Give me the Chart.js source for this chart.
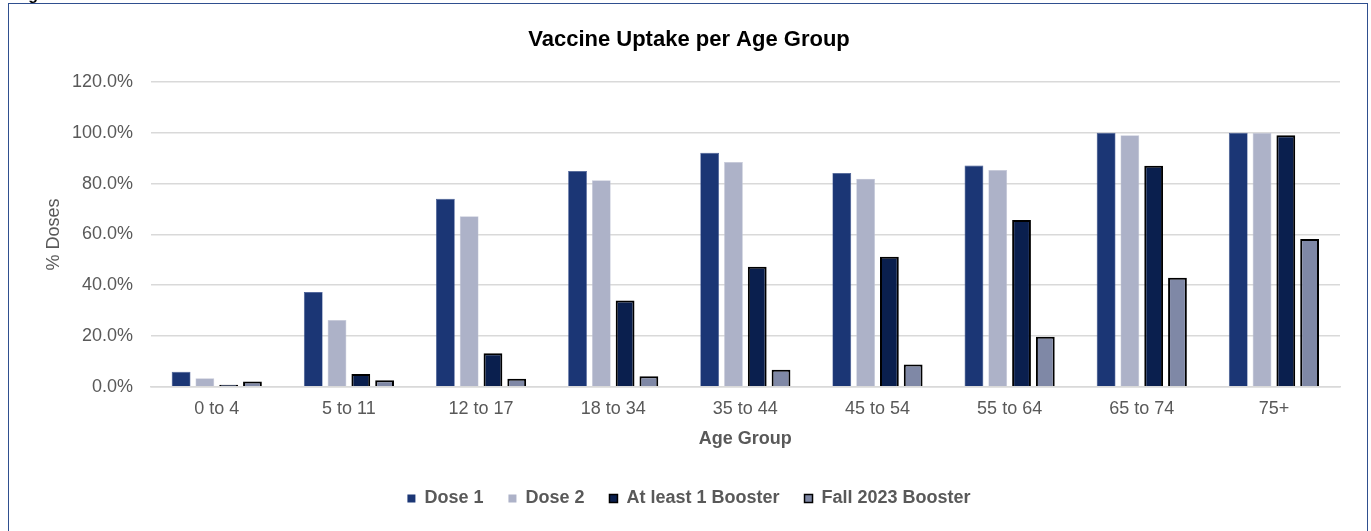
<!DOCTYPE html>
<html>
<head>
<meta charset="utf-8">
<script src="https://cdn.jsdelivr.net/npm/chart.js@4.4.1/dist/chart.umd.min.js"></script>
<style>
  html, body { margin: 0; padding: 0; background: #ffffff; overflow: hidden; }
  #wrap { position: relative; width: 1371px; height: 531px; overflow: hidden; }
  #c { position: absolute; left: 0; top: 0; }
  #frame { position: absolute; left: 8px; top: 3px; width: 1358px; height: 600px; border: 1.5px solid #2f4f8f; pointer-events: none; }
  #fig { position: absolute; left: 14px; top: -13.5px; font: bold 16px "Liberation Sans", Arial, sans-serif; line-height: 16px; color: #000; white-space: nowrap; }
</style>
</head>
<body>
<div id="wrap">
  <canvas id="c" width="1371" height="531"></canvas>
  <div id="frame"></div>
  <div id="fig">Figure</div>
</div>
<script>
const categories = ["0 to 4", "5 to 11", "12 to 17", "18 to 34", "35 to 44", "45 to 54", "55 to 64", "65 to 74", "75+"];
const dose1 = [5.9, 37.3, 74.0, 85.0, 92.1, 84.2, 87.1, 100.0, 100.0];
const dose2 = [3.4, 26.3, 67.1, 81.3, 88.5, 81.9, 85.4, 99.0, 100.0];
const booster = [0.8, 5.0, 13.2, 34.0, 47.3, 51.2, 65.7, 87.0, 99.0];
const fall2023 = [2.1, 2.6, 3.2, 4.2, 6.7, 8.8, 19.7, 42.9, 58.2];
const seriesNames = ["Dose 1", "Dose 2", "At least 1 Booster", "Fall 2023 Booster"];
const yTicks = [0, 20, 40, 60, 80, 100, 120];

const FONT = "'Liberation Sans', Arial, sans-serif";
const GREY = "#595959";

new Chart(document.getElementById('c'), {
  type: 'bar',
  data: {
    labels: categories,
    datasets: [
      { label: seriesNames[0], data: dose1, backgroundColor: '#1b3675', borderColor: '#3a5290', borderWidth: 0.6 },
      { label: seriesNames[1], data: dose2, backgroundColor: '#adb2c8', borderColor: '#c4c8d8', borderWidth: 0.6 },
      { label: seriesNames[2], data: booster, backgroundColor: '#0a1f4e', borderColor: '#000000', borderWidth: 2 },
      { label: seriesNames[3], data: fall2023, backgroundColor: '#7f88a6', borderColor: '#000000', borderWidth: 2 }
    ]
  },
  options: {
    responsive: false,
    animation: false,
    devicePixelRatio: 1,
    datasets: { bar: { categoryPercentage: 0.72, barPercentage: 0.79 } },
    layout: { padding: { left: 38, right: 31, top: 0, bottom: 13.5 } },
    plugins: {
      tooltip: { enabled: false },
      title: {
        display: true,
        text: 'Vaccine Uptake per Age Group',
        color: '#000000',
        font: { family: FONT, size: 22, weight: 'bold', lineHeight: 1.2 },
        padding: { top: 26.5, bottom: 29.1 }
      },
      legend: {
        position: 'bottom',
        labels: {
          color: GREY,
          font: { family: FONT, size: 18, weight: 'bold' },
          boxWidth: 8,
          boxHeight: 8,
          padding: 25,
          generateLabels: (chart) => chart.data.datasets.map((ds, i) => ({
            text: ds.label,
            fillStyle: ds.backgroundColor,
            strokeStyle: i >= 2 ? '#000000' : ds.backgroundColor,
            lineWidth: i >= 2 ? 1.5 : 0,
            hidden: false,
            datasetIndex: i,
            fontColor: GREY
          }))
        }
      }
    },
    scales: {
      x: {
        grid: { display: false, drawTicks: false },
        border: { display: true, color: '#d9d9d9', width: 1.5 },
        ticks: { color: GREY, font: { family: FONT, size: 18 }, padding: 11, maxRotation: 0 },
        title: {
          display: true,
          text: 'Age Group',
          color: GREY,
          font: { family: FONT, size: 18, weight: 'bold' },
          padding: { top: 4, bottom: 15 }
        },
        afterFit: (s) => { s.height = 77.7; }
      },
      y: {
        min: 0,
        max: 120,
        afterBuildTicks: (s) => { s.ticks = yTicks.map(v => ({ value: v })); },
        grid: { color: '#d9d9d9', lineWidth: 1.5, drawTicks: false },
        border: { display: false },
        ticks: {
          color: GREY,
          font: { family: FONT, size: 18 },
          padding: 17.7,
          callback: (v) => Number(v).toFixed(1) + '%'
        },
        title: {
          display: true,
          text: '% Doses',
          color: GREY,
          font: { family: FONT, size: 18 },
          padding: { top: 5, bottom: 4 }
        },
        afterFit: (s) => { s.width = 112.7; }
      }
    }
  }
});
</script>
</body>
</html>
